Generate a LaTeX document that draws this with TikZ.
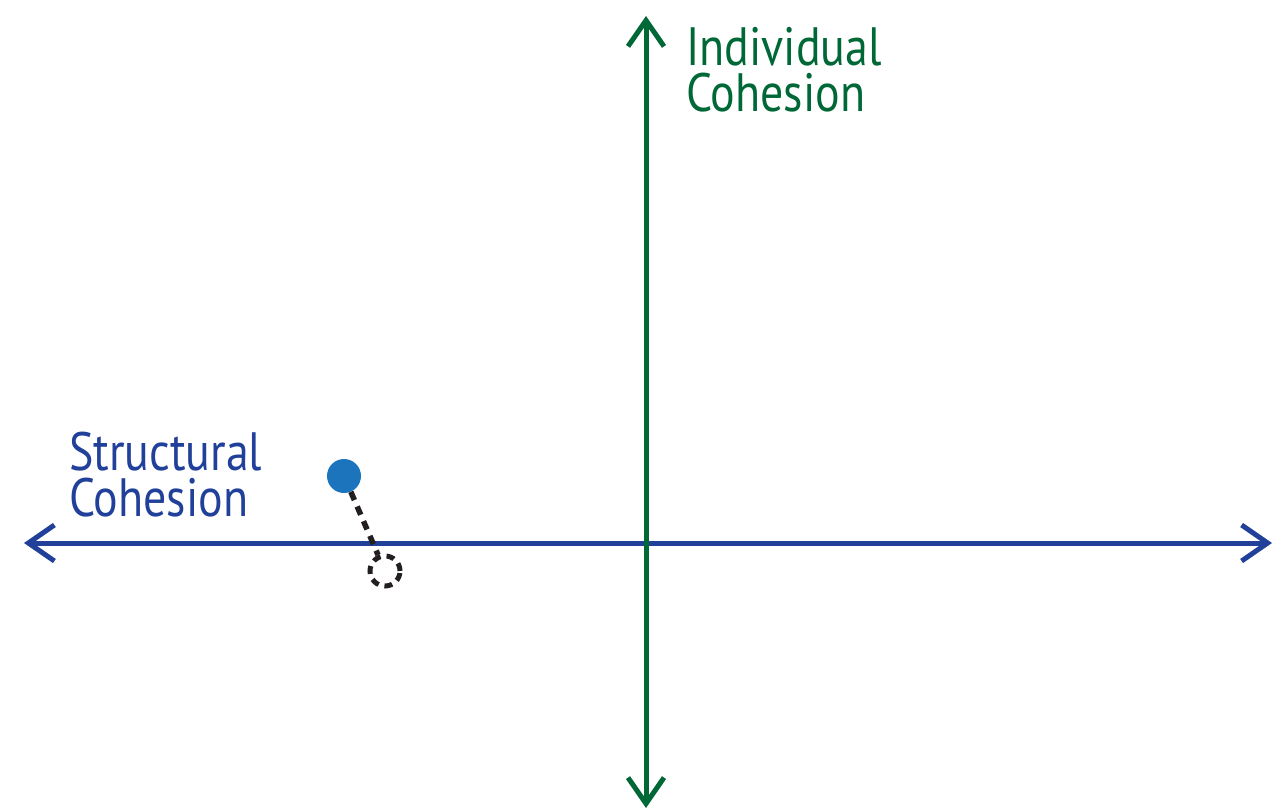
\documentclass[tikz,border=0pt]{standalone}
\usepackage{fontspec}
\setmainfont{PT Sans}
\newfontfamily\labelfont[FakeStretch=0.85]{PT Sans}
\usetikzlibrary{arrows.meta}
\definecolor{axisblue}{HTML}{21409A}
\definecolor{axisgreen}{HTML}{006837}
\definecolor{dotblue}{HTML}{1C75BC}
\definecolor{dashblack}{HTML}{231F20}
\tikzset{
  axis/.style={line width=5pt, {Straight Barb[length=26pt,width=36pt,line width=5pt]}-{Straight Barb[length=26pt,width=36pt,line width=5pt]}},
  label/.style={anchor=north west, align=left, inner sep=0pt, font=\labelfont\fontsize{54}{46}\selectfont},
  link/.style={dashblack, line width=5.5pt, dash pattern=on 9pt off 7pt}
}
\begin{document}
\begin{tikzpicture}[x=1pt,y=-1pt]
\useasboundingbox (0,0) rectangle (1274,810);
\coordinate (L) at (24,543);
\coordinate (R) at (1272,543);
\coordinate (T) at (646,16);
\coordinate (B) at (646,808);
\draw[axis, axisblue] (L) -- (R);
\draw[axis, axisgreen] (B) -- (T);
\node[label, text=axisgreen] (ind) at (686,27) {Individual\\Cohesion};
\node[label, text=axisblue] (str) at (69,432) {Structural\\Cohesion};
\node[circle, fill=dotblue, minimum size=34pt, inner sep=0pt] (dot) at (344,476) {};
\node[circle, draw=dashblack, line width=5pt, dash pattern=on 8pt off 6pt, minimum size=30pt, inner sep=0pt] (ghost) at (385,571) {};
\draw[link] (dot) -- (ghost);
\end{tikzpicture}
\end{document}
